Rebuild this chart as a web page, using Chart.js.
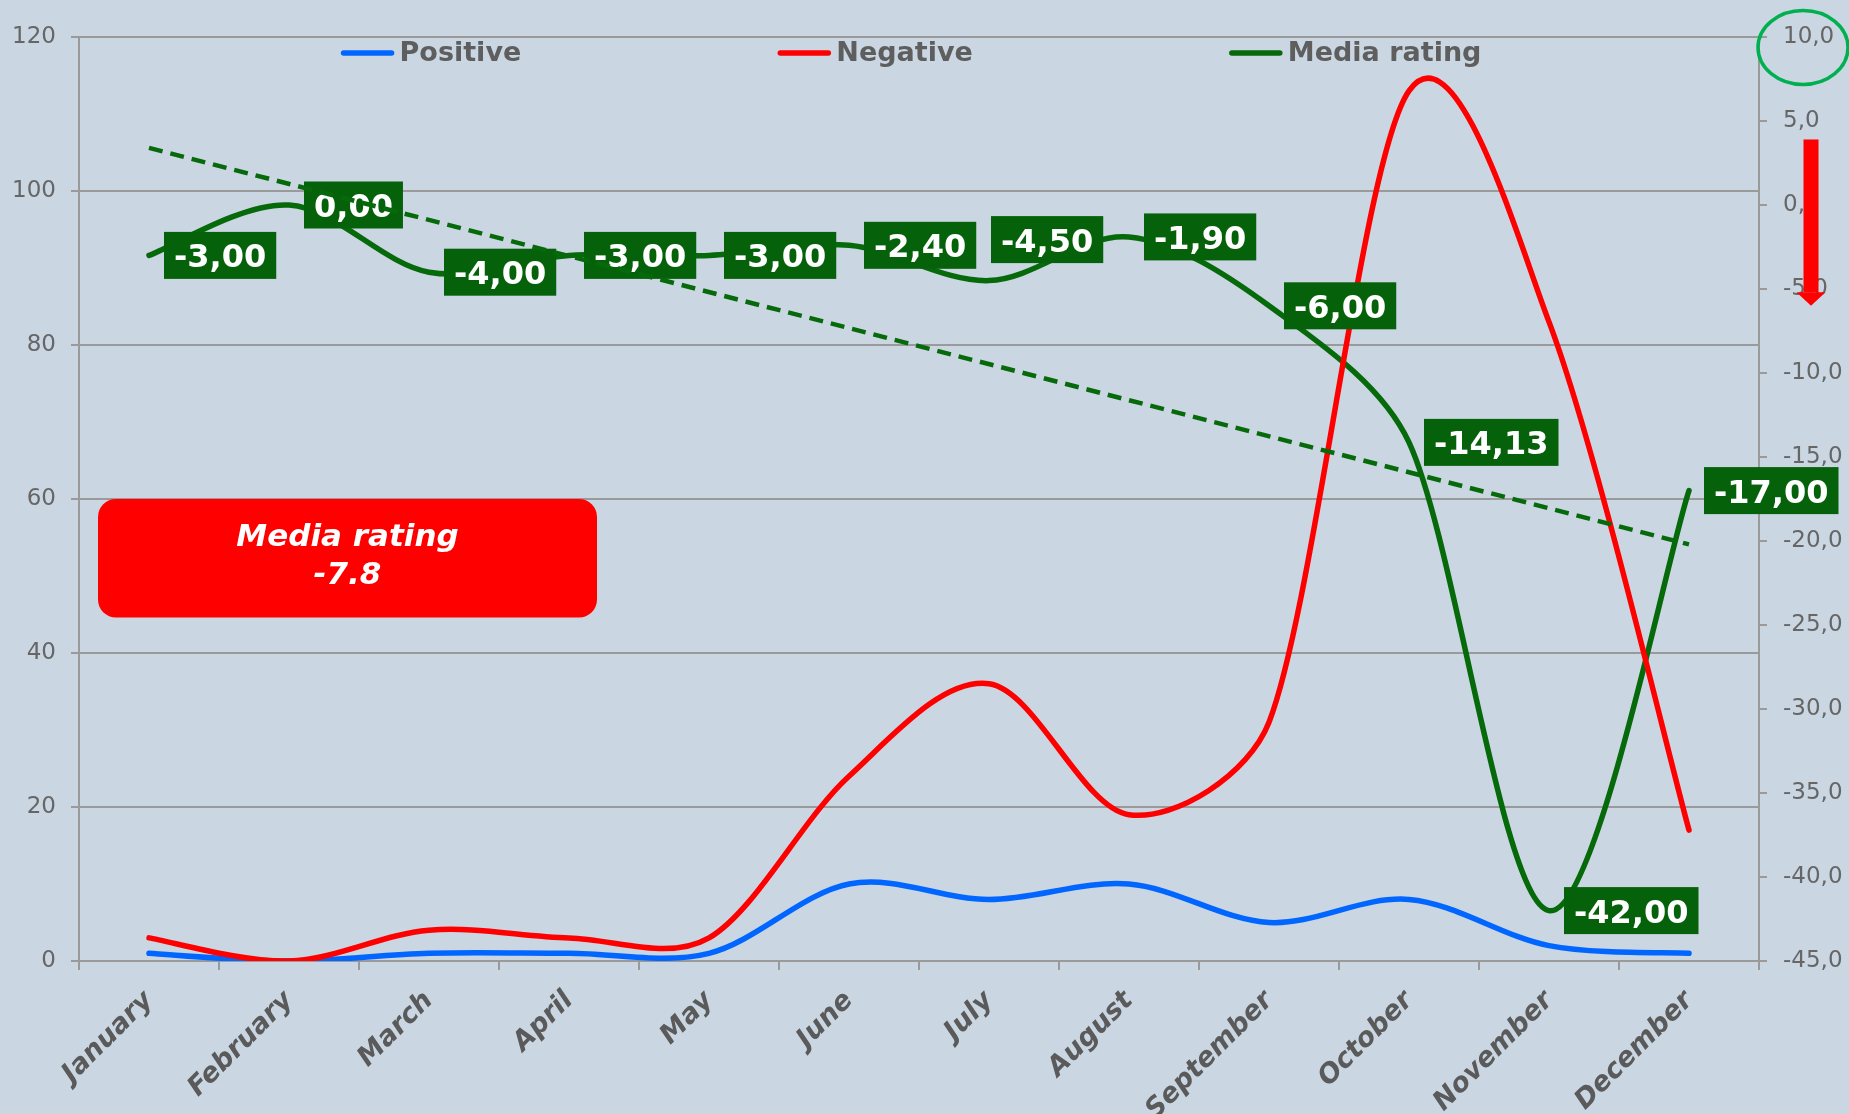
<!DOCTYPE html>
<html>
<head>
<meta charset="utf-8">
<script src="https://cdn.jsdelivr.net/npm/chart.js@4.4.0/dist/chart.umd.min.js"></script>
<style>
  html, body { margin: 0; padding: 0; background: #CAD6E2; }
  canvas { display: block; }
</style>
</head>
<body>
<canvas id="chart" width="1849" height="1114"></canvas>
<script>
// ---------------- data ----------------
const categories = ['January', 'February', 'March', 'April', 'May', 'June',
                    'July', 'August', 'September', 'October', 'November', 'December'];
const positiveValues = [1, 0, 1, 1, 1, 10, 8, 10, 5, 8, 2, 1];
const negativeValues = [3, 0, 4, 3, 3, 24, 36, 19, 31, 113, 83, 17];
const mediaRatingValues = [-3, 0, -4, -3, -3, -2.4, -4.5, -1.9, -6, -14.13, -42, -17];
// linear trend of media rating (start and end)
const mediaTrendValues = [3.4, null, null, null, null, null, null, null, null, null, null, -20.2];
const leftAxisTicks = { min: 0, max: 120, step: 20 };
const rightAxisTicks = { min: -45, max: 10, step: 5 };
const averageTitle = 'Media rating';
const averageValue = '-7.8';

// ---------------- styles ----------------
const BLUE = '#0066FF', RED = '#FF0000', GREEN = '#066A0B', BOX_GREEN = '#06620A';
const AXIS = '#9A9A9A', TEXT = '#666666', LEGEND_TEXT = '#5E5E5E';
const FONT = '"DejaVu Sans", Verdana, sans-serif';
// label placement for each media rating point: 'right' of point, or 'above'
const labelPlacement = ['right', 'right', 'right', 'right', 'right', 'right',
                        'above', 'right', 'right', 'right', 'right', 'right'];

// Excel-like smoothing: Catmull-Rom handles, each limited to 1/3 of its adjacent segment
const excelSmooth = {
  id: 'excelSmooth',
  afterDatasetsUpdate(chart) {
    chart.data.datasets.forEach((ds, i) => {
      if (!ds.smoothLikeExcel) return;
      const meta = chart.getDatasetMeta(i);
      const pts = meta.data;
      const n = pts.length;
      for (let k = 0; k < n; k++) {
        const p0 = pts[Math.max(k - 1, 0)], p1 = pts[k], p2 = pts[Math.min(k + 1, n - 1)];
        const dx = (p2.x - p0.x) / 6, dy = (p2.y - p0.y) / 6;
        const hl = Math.hypot(dx, dy) || 1;
        const segPrev = Math.hypot(p1.x - p0.x, p1.y - p0.y);
        const segNext = Math.hypot(p2.x - p1.x, p2.y - p1.y);
        const sPrev = Math.min(1, segPrev / 3 / hl);
        const sNext = Math.min(1, segNext / 3 / hl);
        p1.cp1x = p1.x - dx * sPrev; p1.cp1y = p1.y - dy * sPrev;
        p1.cp2x = p1.x + dx * sNext; p1.cp2y = p1.y + dy * sNext;
      }
      meta.dataset._pointsUpdated = true;
    });
  }
};

// value boxes on media rating line (drawn after the red line, below the dashed trend)
const valueBoxes = {
  id: 'valueBoxes',
  afterDatasetDraw(chart, args) {
    if (args.index !== 1) return;
    const ctx = chart.ctx;
    const meta = chart.getDatasetMeta(2);
    ctx.save();
    ctx.font = 'bold 32px ' + FONT;
    ctx.textBaseline = 'alphabetic';
    ctx.textAlign = 'left';
    meta.data.forEach((pt, j) => {
      const txt = mediaRatingValues[j].toFixed(2).replace('.', ',');
      const w = ctx.measureText(txt).width + 20;
      const h = 47;
      let left, cy;
      if (labelPlacement[j] === 'above') { left = pt.x + 2; cy = pt.y - 41; }
      else { left = pt.x + 15; cy = pt.y; }
      ctx.fillStyle = BOX_GREEN;
      ctx.fillRect(left, cy - h / 2, w, h);
      ctx.fillStyle = '#FFFFFF';
      ctx.fillText(txt, left + 10, cy + 12);
    });
    ctx.restore();
  }
};

// legend inside plot top, annotation box, arrow and ellipse
const decorations = {
  id: 'decorations',
  afterDraw(chart) {
    const ctx = chart.ctx;
    const ca = chart.chartArea;
    const yL = chart.scales.y, yR = chart.scales.y1;
    ctx.save();
    // legend
    ctx.font = 'bold 27px ' + FONT;
    const items = [0, 1, 2].map(i => ({
      text: chart.data.datasets[i].label,
      color: chart.data.datasets[i].borderColor
    }));
    const lineLen = 54, gapText = 5, gapItem = 256;
    const widths = items.map(it => lineLen + gapText + ctx.measureText(it.text).width);
    const total = widths.reduce((a, b) => a + b, 0) + gapItem * (items.length - 1);
    let x = (ca.left + ca.right) / 2 - 8 - total / 2;
    const ly = ca.top + 16;
    items.forEach((it, i) => {
      ctx.strokeStyle = it.color;
      ctx.lineWidth = 5.5;
      ctx.lineCap = 'round';
      ctx.beginPath();
      ctx.moveTo(x + 3, ly);
      ctx.lineTo(x + lineLen - 3, ly);
      ctx.stroke();
      ctx.fillStyle = LEGEND_TEXT;
      ctx.textBaseline = 'middle';
      ctx.textAlign = 'left';
      ctx.fillText(it.text, x + lineLen + gapText, ly + 1);
      x += widths[i] + gapItem;
    });

    // red annotation box
    const bx = ca.left + 19, by = yL.getPixelForValue(60);
    const bw = 499, bh = yL.getPixelForValue(44.6) - by;
    ctx.fillStyle = '#FF0000';
    ctx.beginPath();
    ctx.roundRect(bx, by, bw, bh, 18);
    ctx.fill();
    ctx.fillStyle = '#FFFFFF';
    ctx.font = 'italic bold 31px ' + FONT;
    ctx.textAlign = 'center';
    ctx.textBaseline = 'alphabetic';
    ctx.fillText(averageTitle, bx + bw / 2, by + 47);
    ctx.fillText(averageValue, bx + bw / 2, by + 85);

    // red down arrow over right axis
    const ax = yR.left + 52;
    const aTop = yR.getPixelForValue(3.9), aNeck = yR.getPixelForValue(-5.2), aTip = yR.getPixelForValue(-6.0);
    ctx.fillStyle = '#FF0000';
    ctx.fillRect(ax - 7.5, aTop, 15, aNeck - aTop);
    ctx.beginPath();
    ctx.moveTo(ax - 14.5, aNeck);
    ctx.lineTo(ax + 14.5, aNeck);
    ctx.lineTo(ax, aTip);
    ctx.closePath();
    ctx.fill();

    // green ellipse round top right tick
    ctx.strokeStyle = '#00B050';
    ctx.lineWidth = 3.5;
    ctx.beginPath();
    ctx.ellipse(yR.left + 44, yR.getPixelForValue(10) + 10.5, 45, 37, 0, 0, Math.PI * 2);
    ctx.stroke();
    ctx.restore();
  }
};

const tickFont = { family: FONT, size: 23 };

new Chart(document.getElementById('chart'), {
  type: 'line',
  data: {
    labels: categories,
    datasets: [
      { label: 'Positive', data: positiveValues, borderColor: BLUE, backgroundColor: BLUE,
        borderWidth: 5.5, pointRadius: 0, tension: 0.4, fill: false, yAxisID: 'y',
        borderCapStyle: 'round', borderJoinStyle: 'round', order: 3, smoothLikeExcel: true },
      { label: 'Negative', data: negativeValues, borderColor: RED, backgroundColor: RED,
        borderWidth: 5.5, pointRadius: 0, tension: 0.4, fill: false, yAxisID: 'y',
        borderCapStyle: 'round', borderJoinStyle: 'round', order: 2, smoothLikeExcel: true },
      { label: 'Media rating', data: mediaRatingValues, borderColor: GREEN, backgroundColor: GREEN,
        borderWidth: 5.5, pointRadius: 0, tension: 0.4, fill: false, yAxisID: 'y1',
        borderCapStyle: 'round', borderJoinStyle: 'round', order: 4, smoothLikeExcel: true },
      { label: 'Trend', data: mediaTrendValues, borderColor: GREEN, borderWidth: 4.5,
        borderDash: [14, 8], pointRadius: 0, tension: 0, spanGaps: true, fill: false,
        yAxisID: 'y1', order: 1 }
    ]
  },
  options: {
    responsive: false,
    animation: false,
    events: [],
    layout: { padding: { top: 37, left: 0, right: 0, bottom: 0 } },
    plugins: { legend: { display: false }, tooltip: { enabled: false }, title: { display: false } },
    scales: {
      x: {
        type: 'category',
        offset: true,
        grid: { display: true, drawOnChartArea: false, drawTicks: true, tickLength: 9,
                offset: true, color: AXIS, lineWidth: 2 },
        border: { display: true, color: AXIS, width: 2 },
        ticks: { autoSkip: false, minRotation: 45, maxRotation: 45, padding: 15, color: '#5A5A5A',
                 font: { family: FONT, size: 27, weight: 'bold', style: 'italic' } },
        afterFit: s => { s.height = 153; }
      },
      y: {
        position: 'left',
        min: leftAxisTicks.min, max: leftAxisTicks.max,
        ticks: { stepSize: leftAxisTicks.step, padding: 15, color: TEXT, font: tickFont },
        grid: { color: AXIS, lineWidth: 2, tickLength: 8, drawTicks: true },
        border: { display: true, color: AXIS, width: 2 },
        afterFit: s => { s.width = 79; }
      },
      y1: {
        position: 'right',
        min: rightAxisTicks.min, max: rightAxisTicks.max,
        ticks: { stepSize: rightAxisTicks.step, padding: 16, color: TEXT, font: tickFont,
                 callback: v => Number(v).toFixed(1).replace('.', ',') },
        grid: { drawOnChartArea: false, color: AXIS, lineWidth: 2, tickLength: 8, drawTicks: true },
        border: { display: true, color: AXIS, width: 2 },
        afterFit: s => { s.width = 90; }
      }
    }
  },
  plugins: [excelSmooth, valueBoxes, decorations]
});
</script>
</body>
</html>
